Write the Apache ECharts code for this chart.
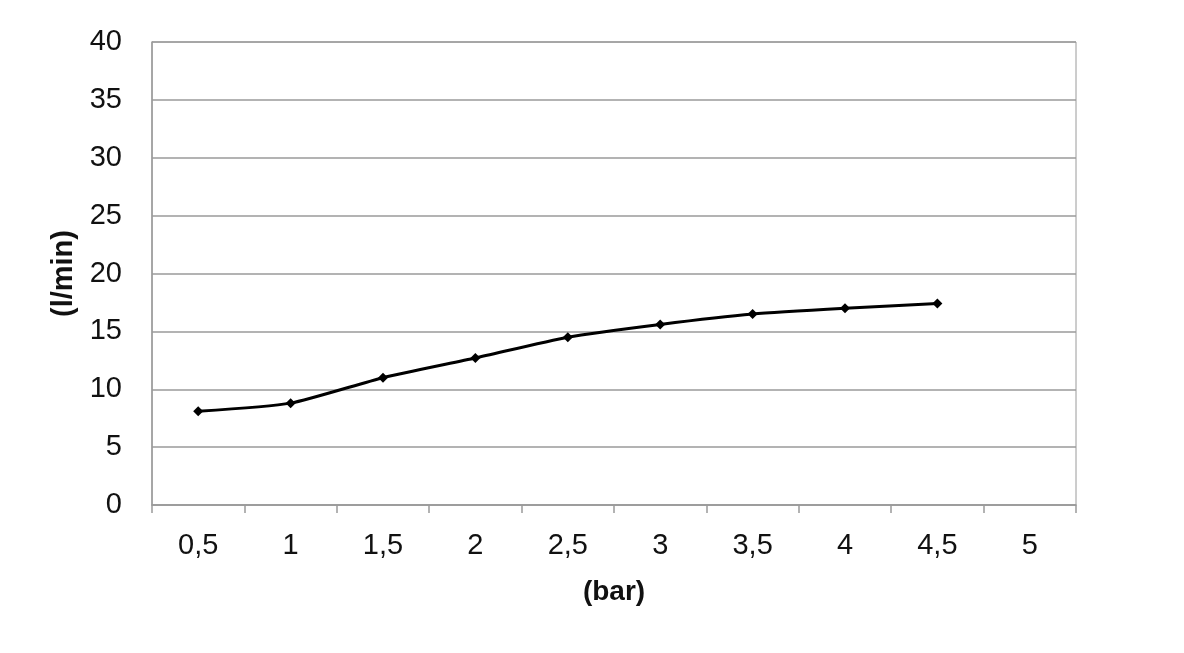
<!DOCTYPE html>
<html><head><meta charset="utf-8">
<script src="https://cdn.jsdelivr.net/npm/echarts@6/dist/echarts.min.js"></script>
<style>html,body{margin:0;padding:0;background:#fff}#c{width:1184px;height:653px}</style>
</head><body><div id="c"></div>
<script>
const categories = ['0,5','1','1,5','2','2,5','3','3,5','4','4,5','5'];
const flowValues = [8.1, 8.8, 11.0, 12.7, 14.5, 15.6, 16.5, 17.0, 17.4];
const yTicks = {min: 0, max: 40, interval: 5};

const chart = echarts.init(document.getElementById('c'));
chart.setOption({
  backgroundColor: '#fff',
  animation: false,
  grid: {left: 152, right: 108, top: 42, bottom: 148, show: true, borderColor: '#9a9a9a', borderWidth: 1, backgroundColor: 'transparent'},
  xAxis: {
    type: 'category', data: categories, boundaryGap: true,
    name: '(bar)', nameLocation: 'middle', nameGap: 73,
    nameTextStyle: {fontFamily: 'Liberation Sans, Arial', fontSize: 28, fontWeight: 'bold', color: '#111'},
    axisLine: {lineStyle: {color: '#9a9a9a', width: 1.5}},
    axisTick: {show: true, alignWithLabel: false, length: 8, lineStyle: {color: '#9a9a9a', width: 1.5}},
    axisLabel: {fontFamily: 'Liberation Sans, Arial', fontSize: 29, color: '#111', margin: 26, interval: 0},
    splitLine: {show: false}
  },
  yAxis: {
    type: 'value', min: yTicks.min, max: yTicks.max, interval: yTicks.interval,
    name: '(l/min)', nameLocation: 'middle', nameRotate: 90, nameGap: 70,
    nameTextStyle: {fontFamily: 'Liberation Sans, Arial', fontSize: 29, fontWeight: 'bold', color: '#111'},
    axisLine: {show: true, lineStyle: {color: '#9a9a9a', width: 1.5}},
    axisTick: {show: false},
    axisLabel: {fontFamily: 'Liberation Sans, Arial', fontSize: 29, color: '#111', margin: 30},
    splitLine: {lineStyle: {color: '#9a9a9a', width: 1.5}}
  },
  series: [{
    type: 'line', data: flowValues, smooth: 0.2,
    symbol: 'diamond', symbolSize: 10,
    lineStyle: {color: '#000', width: 3},
    itemStyle: {color: '#000'}
  }]
});
</script></body></html>
